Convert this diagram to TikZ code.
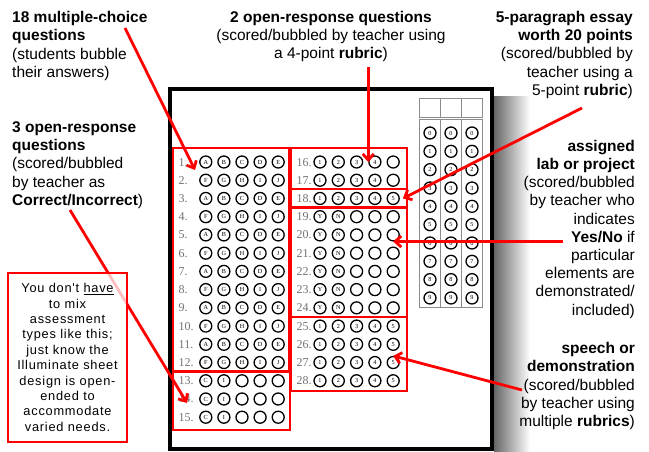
\documentclass[tikz,border=0pt]{standalone}
\usepackage{fontspec}
\setmainfont{Liberation Sans}
\newfontfamily\sheetfont{Liberation Serif}
\newfontfamily\notefont[LetterSpace=6]{Liberation Sans}
\usetikzlibrary{arrows.meta,positioning,calc}

\begin{document}
\begin{tikzpicture}[x=1pt,y=-1pt,
    >={Straight Barb[length=6pt,width=11pt]},
    callout/.style={->,line width=2.8pt,draw=red},
    group/.style={draw=red,line width=2.8pt},
    bubble/.style={circle,draw=black,line width=1.3pt,minimum size=12pt,
      inner sep=0pt,font=\sheetfont\fontsize{6.2}{7}\selectfont},
    qnum/.style={anchor=base west,inner sep=0pt,text=black!55,
      font=\sheetfont\fontsize{12}{12}\selectfont},
    caption/.style={inner sep=0pt,font=\fontsize{15.5}{18.2}\selectfont},
    gridline/.style={draw=black!45,line width=0.9pt}
  ]
    \useasboundingbox[fill=white] (0,0) rectangle (649,451);

    % The answer sheet with its shadow.
    \shade[left color=black!60,right color=white] (494,96) rectangle (530,451);
    \filldraw[fill=white,line width=4pt] (170,88.5) rectangle (492,449);

    % Student ID grid.
    \draw[gridline] (419,98) rectangle (482,117);
    \draw[gridline] (419,119) rectangle (482,307);
    \foreach \x in {440.5,461.5}
      \draw[gridline] (\x,98) -- (\x,117) (\x,119) -- (\x,307);
    \foreach \c/\x in {1/430,2/451,3/472}
      \foreach \d in {0,...,9}
        \node[bubble] (g\c-\d) at (\x,{133+\d*18.33}) {\d};

    % Question numbers.
    \foreach \r in {1,...,15}
      \node[qnum] (n\r) at (178.5,{166+(\r-1)*18.23}) {\r.};
    \foreach \r in {16,...,28}
      \node[qnum] (n\r) at (296.5,{166+(\r-16)*18.23}) {\r.};

    % Bubbles, left column.
    \foreach \r in {1,3,...,11}
      \foreach \l [count=\c] in {A,B,C,D,E}
        \node[bubble] (q\r-\c) at ({205.8+(\c-1)*18.1},{162+(\r-1)*18.23}) {\l};
    \foreach \r in {2,4,...,12}
      \foreach \l [count=\c] in {F,G,H,I,J}
        \node[bubble] (q\r-\c) at ({205.8+(\c-1)*18.1},{162+(\r-1)*18.23}) {\l};
    \foreach \r in {13,14,15}
      \foreach \l [count=\c] in {C,I,{},{},{}}
        \node[bubble] (q\r-\c) at ({205.8+(\c-1)*18.1},{162+(\r-1)*18.23}) {\l};

    % Bubbles, right column.
    \foreach \r in {16,17}
      \foreach \l [count=\c] in {1,2,3,4,{}}
        \node[bubble] (q\r-\c) at ({320+(\c-1)*18.3},{162+(\r-16)*18.23}) {\l};
    \foreach \r in {18,25,26,27,28}
      \foreach \l [count=\c] in {1,2,3,4,5}
        \node[bubble] (q\r-\c) at ({320+(\c-1)*18.3},{162+(\r-16)*18.23}) {\l};
    \foreach \r in {19,...,24}
      \foreach \l [count=\c] in {Y,N,{},{},{}}
        \node[bubble] (q\r-\c) at ({320+(\c-1)*18.3},{162+(\r-16)*18.23}) {\l};

    % Question groups.
    \draw[group] (173,148) rectangle (289,371.5);
    \draw[group] (173,371.5) rectangle (290,430);
    \draw[group] (291,148) rectangle (407,189);
    \draw[group] (291,189) rectangle (407,207.5);
    \draw[group] (291,207.5) rectangle (407,317);
    \draw[group] (291,317) rectangle (407,391);

    % Captions (placed by the baseline of their last line).
    \node[caption,align=left,anchor=base west] (mc) at (12,77.3)
      {\textbf{18 multiple-choice}\\\textbf{questions}\\(students bubble\\their answers)};
    \node[caption,align=center,anchor=base] (orq) at (331,58.9)
      {\textbf{2 open-response questions}\\(scored/bubbled by teacher using\\a 4-point \textbf{rubric})};
    \node[caption,align=right,anchor=base east] (essay) at (633,95.3)
      {\textbf{5-paragraph essay}\\\textbf{worth 20 points}\\(scored/bubbled by\\teacher using a\\5-point \textbf{rubric})};
    \node[caption,align=left,anchor=base west] (ci) at (12,205.3)
      {\textbf{3 open-response}\\\textbf{questions}\\(scored/bubbled\\by teacher as\\\textbf{Correct/Incorrect})};
    \node[caption,align=right,anchor=base east] (lab) at (635,315)
      {\textbf{assigned}\\\textbf{lab or project}\\(scored/bubbled\\by teacher who\\indicates\\\textbf{Yes/No} if\\particular\\elements are\\demonstrated/\\included)};
    \node[caption,align=right,anchor=base east] (speech) at (635,426.5)
      {\textbf{speech or}\\\textbf{demonstration}\\(scored/bubbled\\by teacher using\\multiple \textbf{rubrics})};

    % Callouts.
    \coordinate (mc-tail) at (125,28);
    \coordinate (mc-head) at (195,170);
    \coordinate (ci-tail) at (70,210);
    \coordinate (ci-head) at (187,403);
    \draw[callout] (mc-tail) -- (mc-head);
    \draw[callout] ($(q16-4.west |- orq.south)+(0,5)$) -- (q16-4.west);
    \draw[callout] (582,108) -- ($(q18-5.east)+(3,0)$);
    \draw[callout] ($(q20-5.south)+(170,0)$) -- (q20-5.south);
    \draw[callout] (522,390) -- (q27-5.north);
    \draw[callout] (ci-tail) -- (ci-head);

    % Note box.
    \node[draw=red,line width=2.8pt,fill=white,fill opacity=0.75,text opacity=1,
      minimum width=119pt,minimum height=169pt,align=center,
      font=\notefont\fontsize{12.8}{15.4}\selectfont] (note) at (67.5,357.5)
      {You don't \underline{have}\\to mix\\assessment\\types like this;\\just know the\\Illuminate sheet\\design is open-\\ended to\\accommodate\\varied needs.};
  \end{tikzpicture}
\end{document}
